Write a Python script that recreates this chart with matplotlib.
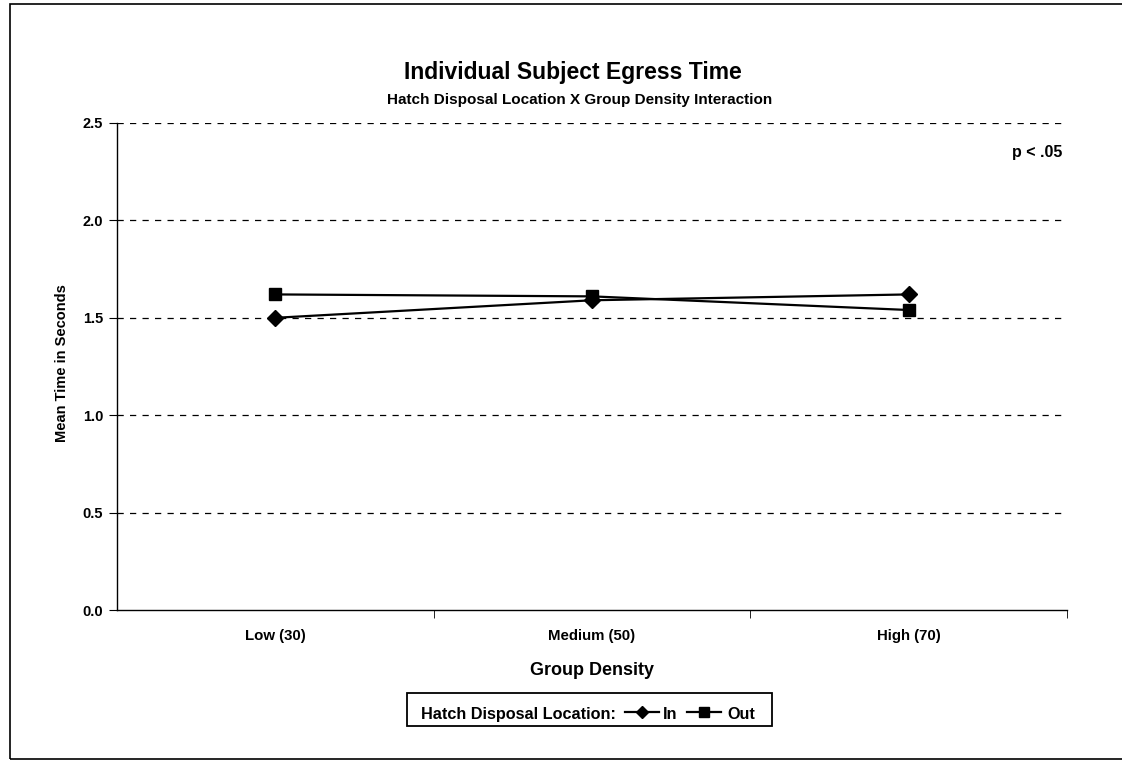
import matplotlib

matplotlib.use("Agg")
import matplotlib.pyplot as plt
from matplotlib.lines import Line2D
from matplotlib.patches import Rectangle

categories = ["Low (30)", "Medium (50)", "High (70)"]
in_values = [1.50, 1.59, 1.62]
out_values = [1.62, 1.61, 1.54]
y_ticks = [0.0, 0.5, 1.0, 1.5, 2.0, 2.5]

plt.rcParams["font.family"] = ["Liberation Sans", "DejaVu Sans"]
plt.rcParams["font.weight"] = "bold"

W, H = 1122, 761
fig = plt.figure(figsize=(W / 100, H / 100), dpi=100)
ax = fig.add_axes([117 / W, 1 - 610 / H, 950 / W, 487 / H])

x = list(range(len(categories)))
ax.plot(x, in_values, color="black", linewidth=1.6, marker="D", markersize=8, label="In")
ax.plot(x, out_values, color="black", linewidth=1.6, marker="s", markersize=9, label="Out")

ax.set_xlim(-0.5, len(categories) - 0.5)
ax.set_ylim(0, 2.5)
ax.set_yticks(y_ticks)
ax.set_yticklabels([f"{v:.1f}" for v in y_ticks], fontsize=10.5, fontweight="bold")
ax.set_xticks(x)
ax.set_xticklabels(categories, fontsize=10.8, fontweight="bold")
ax.tick_params(axis="x", length=0, pad=14)
ax.set_xticks([i + 0.5 for i in x], minor=True)
ax.tick_params(axis="x", which="minor", length=6, direction="out", color="black")
ax.tick_params(axis="y", length=6, direction="out", pad=4)

for v in y_ticks[1:]:
    ax.axhline(v, color="black", linewidth=0.9, linestyle=(0, (5, 5)), zorder=0)

for side in ["top", "right"]:
    ax.spines[side].set_visible(False)
ax.spines["left"].set_linewidth(1.0)
ax.spines["bottom"].set_linewidth(1.0)

ax.set_xlabel("Group Density", fontsize=13, fontweight="bold")
ax.xaxis.set_label_coords(0.5, -52 / 487)
ax.set_ylabel("Mean Time in Seconds", fontsize=10.5, fontweight="bold")
ax.yaxis.set_label_coords(-48 / 950, 0.508)

ax.text(0.995, 0.94, "p < .05", transform=ax.transAxes, ha="right", va="center",
        fontsize=11.5, fontweight="bold")

fig.text(573 / W, 1 - 72 / H, "Individual Subject Egress Time", ha="center", va="center",
         fontsize=16.5, fontweight="bold")
fig.text(580 / W, 1 - 100 / H, "Hatch Disposal Location X Group Density Interaction",
         ha="center", va="center", fontsize=11, fontweight="bold")

# legend drawn by hand: the label sits on the same row as the samples
fig.patches.append(Rectangle((407 / W, 1 - 726 / H), 365 / W, 33 / H, transform=fig.transFigure,
                             fill=False, edgecolor="black", linewidth=1.3))
base_y = 1 - 719 / H
line_y = 1 - 712 / H
fig.text(421 / W, base_y, "Hatch Disposal Location:", ha="left", va="baseline",
         fontsize=11.7, fontweight="bold")
samples = [("In", "D", 6, 625, 663), ("Out", "s", 7, 687, 727)]
for label, marker, size, x0, tx in samples:
    fig.lines.append(Line2D([x0 / W, (x0 + 34) / W], [line_y, line_y], transform=fig.transFigure,
                            color="black", linewidth=1.6))
    fig.lines.append(Line2D([(x0 + 17) / W], [line_y], transform=fig.transFigure, color="black",
                            marker=marker, markersize=size, linestyle="none"))
    fig.text(tx / W, base_y, label, ha="left", va="baseline", fontsize=11.7, fontweight="bold")

fig.patches.append(Rectangle((10 / W, 2 / H), 1.05, 755 / H, transform=fig.transFigure,
                             fill=False, edgecolor="black", linewidth=1.2))

fig.savefig("out.png", dpi=100)
